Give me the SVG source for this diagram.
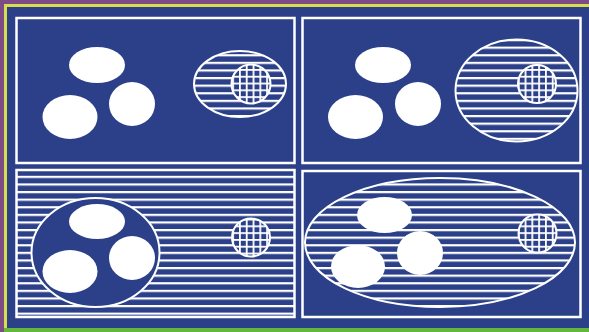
<svg xmlns="http://www.w3.org/2000/svg" width="589" height="332" viewBox="0 0 589 332">
<style>
.frame{fill:none;stroke:#ffffff;stroke-width:2.5}
.blob{fill:#ffffff}
.hatched{fill:url(#hatch);stroke:#ffffff;stroke-width:2}
.gridc{fill:url(#grid);stroke:#ffffff;stroke-width:2}
.blueo{fill:#2b4089;stroke:#ffffff;stroke-width:2}
</style>
<defs>
<pattern id="hatch" patternUnits="userSpaceOnUse" x="0" y="1" width="12" height="7.6">
<rect width="12" height="7.6" fill="#2b4089"/>
<rect y="0" width="12" height="2.2" fill="#ffffff"/>
</pattern>
<pattern id="grid" patternUnits="userSpaceOnUse" x="1" y="1" width="6.8" height="6.8">
<rect width="6.8" height="6.8" fill="#2b4089"/>
<rect y="0" width="6.8" height="1.8" fill="#ffffff"/>
<rect x="0" width="1.8" height="6.8" fill="#ffffff"/>
</pattern>
</defs>
<rect width="589" height="332" fill="#7d4c86"/>
<rect x="4" y="4" width="585" height="328" fill="#d6de4e"/>
<rect x="7" y="7" width="582" height="321" fill="#2b4089"/>
<rect x="4" y="328" width="585" height="4" fill="#62b83a"/>
<g id="panel-top-left">
<rect class="frame" x="16.5" y="18" width="278" height="145"/>
<ellipse class="blob" cx="97" cy="65" rx="28" ry="18"/>
<ellipse class="blob" cx="70" cy="117" rx="27.5" ry="22"/>
<ellipse class="blob" cx="132" cy="104" rx="23" ry="22"/>
<ellipse class="hatched" cx="240" cy="84" rx="46" ry="33"/>
<circle class="gridc" cx="251" cy="84" r="19.5"/>
</g>
<g id="panel-top-right">
<rect class="frame" x="302.5" y="18" width="278" height="145"/>
<ellipse class="blob" cx="383" cy="65" rx="28" ry="18"/>
<ellipse class="blob" cx="355.5" cy="117" rx="27.5" ry="22"/>
<ellipse class="blob" cx="418" cy="104" rx="23" ry="22"/>
<ellipse class="hatched" cx="516.5" cy="90.5" rx="61" ry="51"/>
<circle class="gridc" cx="537" cy="84" r="19"/>
</g>
<g id="panel-bottom-left">
<rect class="frame" x="16.5" y="170" width="278" height="147" style="fill:url(#hatch)"/>
<ellipse class="blueo" cx="95.5" cy="252.5" rx="64" ry="54.5"/>
<ellipse class="blob" cx="97" cy="221.5" rx="28" ry="17.5"/>
<ellipse class="blob" cx="70" cy="271.5" rx="27.5" ry="21.5"/>
<ellipse class="blob" cx="132" cy="258" rx="23" ry="22"/>
<circle class="gridc" cx="251" cy="237.5" r="19"/>
</g>
<g id="panel-bottom-right">
<rect class="frame" x="302.5" y="171" width="278" height="146"/>
<ellipse class="hatched" cx="440" cy="242.5" rx="135" ry="64.5"/>
<ellipse class="blob" cx="384.5" cy="215" rx="27.5" ry="18"/>
<ellipse class="blob" cx="358" cy="266.5" rx="27" ry="21.5"/>
<ellipse class="blob" cx="420" cy="253" rx="23" ry="22"/>
<circle class="gridc" cx="537.5" cy="233.5" r="19"/>
</g>
<g id="connectors"></g>
</svg>
